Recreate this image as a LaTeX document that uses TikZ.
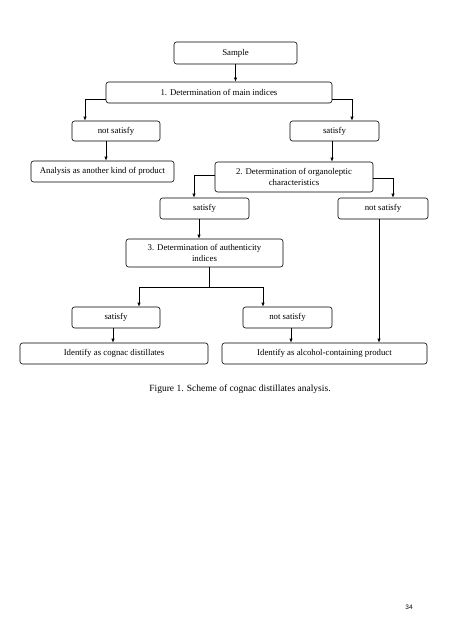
\documentclass[tikz,border=0pt]{standalone}
\usepackage{fontspec}
\setmainfont{Liberation Serif}
\newfontfamily\pgnum{Liberation Sans}
\usetikzlibrary{arrows.meta}
\begin{document}
\begin{tikzpicture}[x=1pt,y=-1pt,
  box/.style={draw,line width=0.6pt,rounded corners=2.5pt,inner sep=1pt,align=center,
    font=\fontsize{8.8}{10.5}\selectfont},
  arr/.style={line width=0.6pt,-{Latex[length=4pt,width=3.2pt]}},
  ln/.style={line width=0.6pt}]
\useasboundingbox (0,0) rectangle (453,640);
\node[box,minimum width=123pt,minimum height=22pt] (sample) at (235.5,53) {Sample};
\node[box,minimum width=226pt,minimum height=21pt] (b1) at (219,92.5) {1. Determination of main indices};
\node[box,minimum width=88pt,minimum height=20pt] (ns1) at (116,131) {not satisfy};
\node[box,minimum width=89pt,minimum height=20pt] (s1) at (334.5,131) {satisfy};
\node[box,minimum width=143pt,minimum height=21pt] (an) at (102.5,171.5) {Analysis as another kind of product};
\node[box,minimum width=158pt,minimum height=30pt] (b2) at (294,177) {2. Determination of organoleptic\\characteristics};
\node[box,minimum width=89pt,minimum height=21pt] (s2) at (204.5,208.5) {satisfy};
\node[box,minimum width=90pt,minimum height=21pt] (ns2) at (383,208.5) {not satisfy};
\node[box,minimum width=157pt,minimum height=28pt] (b3) at (204.5,253) {3. Determination of authenticity\\indices};
\node[box,minimum width=88pt,minimum height=21pt] (s3) at (116,317.5) {satisfy};
\node[box,minimum width=89pt,minimum height=21pt] (ns3) at (287.5,317.5) {not satisfy};
\node[box,minimum width=188pt,minimum height=21pt] (id1) at (114,353.5) {Identify as cognac distillates};
\node[box,minimum width=205pt,minimum height=21pt] (id2) at (324.5,353.5) {Identify as alcohol-containing product};
\node[font=\fontsize{9.5}{11}\selectfont] (cap) at (240,389) {Figure 1. Scheme of cognac distillates analysis.};
\node[font=\pgnum\fontsize{6.5}{8}\selectfont] (pg) at (409,607) {34};
% connectors
\draw[arr] (sample.south) -- (sample.south |- b1.north);
\draw[arr] ([yshift=4pt]b1.south west) -| ([xshift=-31pt]ns1.north);
\draw[arr] ([yshift=4pt]b1.south east) -| ([xshift=17.5pt]s1.north);
\draw[arr] ([xshift=-10pt]ns1.south) -- ([xshift=-10pt]ns1.south |- an.north);
\draw[arr] ([xshift=-2.5pt]s1.south) -- ([xshift=-2.5pt]s1.south |- b2.north);
\draw[arr] ([yshift=17pt]b2.south west) -| ([xshift=-10.5pt]s2.north);
\draw[arr] ([yshift=14pt]b2.south east) -| ([xshift=10pt]ns2.north);
\draw[arr] ([xshift=-5.5pt]s2.south) -- ([xshift=-5.5pt]s2.south |- b3.north);
\coordinate (sp) at (209,287);
\draw[ln] (b3.south -| sp) -- (sp);
\draw[arr] (sp) -| ([xshift=23pt]s3.north);
\draw[arr] (sp) -| ([xshift=-24.5pt]ns3.north);
\draw[arr] ([xshift=-3pt]s3.south) -- ([xshift=-3pt]s3.south |- id1.north);
\draw[arr] ([xshift=3.5pt]ns3.south) -- ([xshift=3.5pt]ns3.south |- id2.north);
\draw[arr] ([xshift=-4pt]ns2.south) -- ([xshift=-4pt]ns2.south |- id2.north);
\end{tikzpicture}
\end{document}
